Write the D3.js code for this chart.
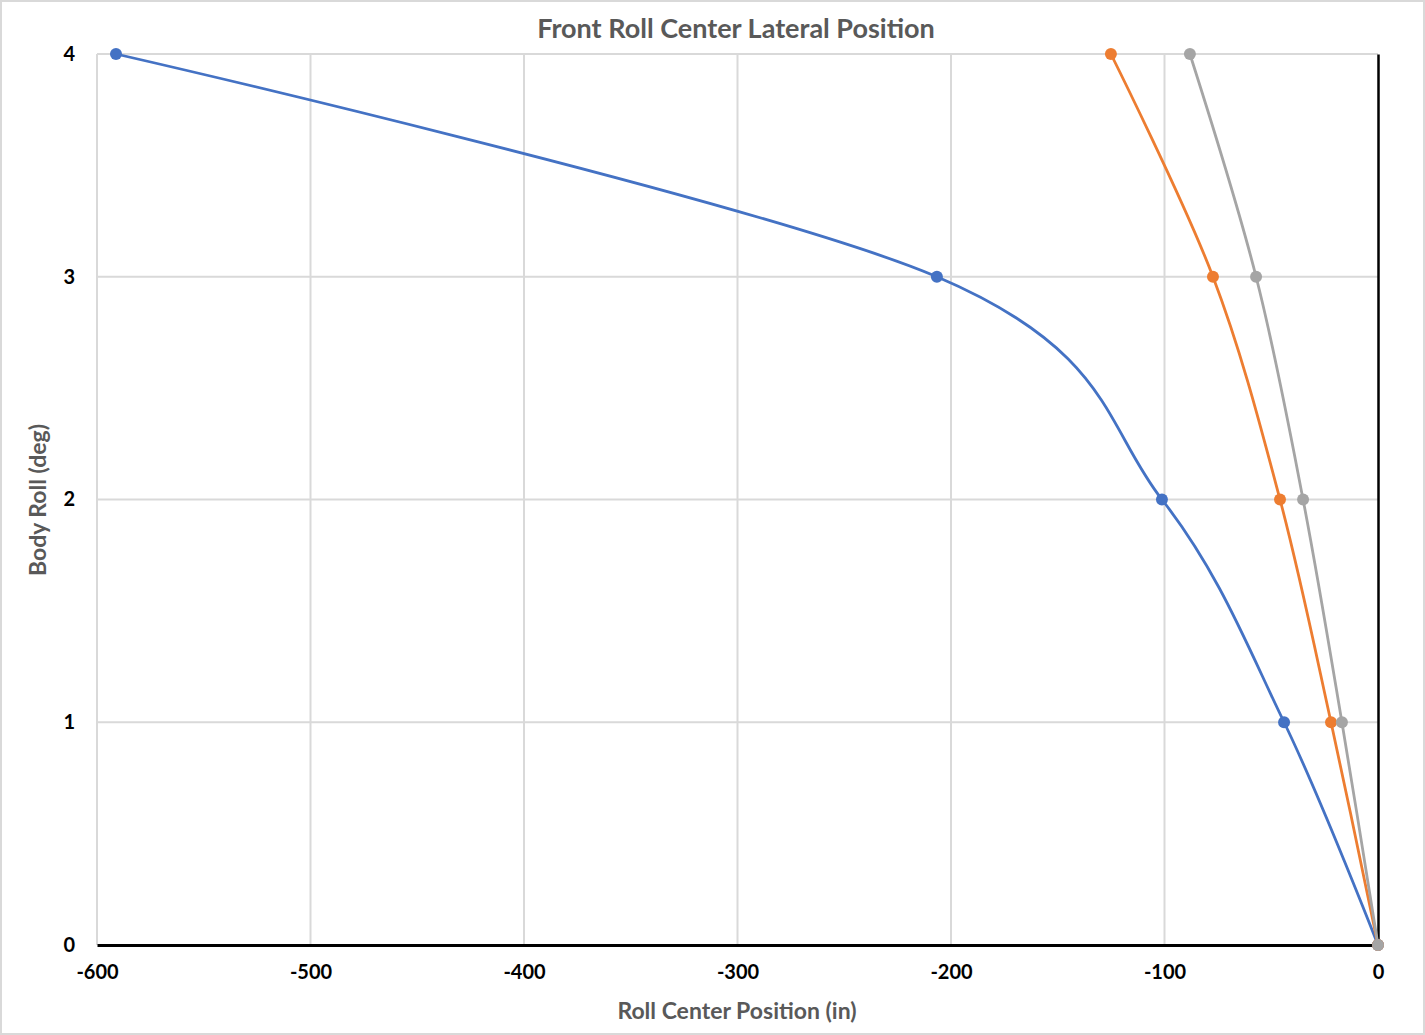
<!DOCTYPE html>
<html>
<head>
<meta charset="utf-8">
<script src="https://cdn.jsdelivr.net/npm/d3@7"></script>
<style>
  body { margin: 0; background: #fff; }
  svg text { font-family: Lato, "Open Sans", sans-serif; }
</style>
</head>
<body>
<svg id="chart" width="1425" height="1035"></svg>
<script>
// Body roll angle (deg) per point
var roll = [0, 1, 2, 3, 4];
// Roll center lateral position (in), one array per series
var serieBlue   = [0, -44.0, -101.2, -206.6, -591.1];
var serieOrange = [0, -22.0, -45.9, -77.3, -125.1];
var serieGray   = [0, -16.9, -35.1, -57.1, -88.1];

var xTicks = [-600, -500, -400, -300, -200, -100, 0];
var yTicks = [0, 1, 2, 3, 4];

var series = [
  { valori: serieBlue,   colore: "#4472c4" },
  { valori: serieOrange, colore: "#ed7d31" },
  { valori: serieGray,   colore: "#a5a5a5" }
];

var svg = d3.select("#chart");
var margin = { top: 54, right: 47, bottom: 90, left: 97 };
var width = 1425 - margin.left - margin.right,
    height = 1035 - margin.top - margin.bottom;

// bordo esterno del grafico
svg.append("rect")
  .attr("x", 1).attr("y", 1)
  .attr("width", 1423).attr("height", 1033)
  .attr("fill", "#fff")
  .attr("stroke", "#d9d9d9")
  .attr("stroke-width", 2);

var x = d3.scaleLinear().domain([-600, 0]).range([0, width]);
var y = d3.scaleLinear().domain([0, 4]).range([height, 0]);

var g = svg.append("g")
  .attr("transform", "translate(" + margin.left + "," + margin.top + ")");

// griglia verticale
g.selectAll(".vgrid")
  .data(xTicks.filter(function(d) { return d != 0; }))
  .enter().append("line")
  .attr("x1", function(d) { return x(d); })
  .attr("x2", function(d) { return x(d); })
  .attr("y1", 0).attr("y2", height)
  .attr("stroke", "#d9d9d9").attr("stroke-width", 2);

// griglia orizzontale
g.selectAll(".hgrid")
  .data(yTicks.filter(function(d) { return d != 0; }))
  .enter().append("line")
  .attr("x1", 0).attr("x2", width)
  .attr("y1", function(d) { return y(d); })
  .attr("y2", function(d) { return y(d); })
  .attr("stroke", "#d9d9d9").attr("stroke-width", 2);

// assi (trattino semplice come segno meno)
var fmt = function(d) { return String(d); };

var xAxis = g.append("g")
  .attr("transform", "translate(0," + height + ")")
  .call(d3.axisBottom(x).tickValues(xTicks).tickSize(0).tickPadding(20).tickFormat(fmt));
xAxis.select(".domain").attr("stroke", "#000").attr("stroke-width", 3);
xAxis.selectAll("text")
  .style("font-size", "20px").style("font-weight", "bold").attr("fill", "#000");

var yAxis = g.append("g")
  .attr("transform", "translate(" + x(0) + ",0)")
  .call(d3.axisLeft(y).tickValues(yTicks).tickSize(0).tickFormat(fmt));
yAxis.select(".domain").attr("stroke", "#000").attr("stroke-width", 2.5);
yAxis.selectAll("text")
  .attr("x", -x(0) - 22)
  .attr("dy", "0.32em")
  .style("font-size", "20px").style("font-weight", "bold").attr("fill", "#000");

// linee smussate
var line = d3.line()
  .x(function(d) { return x(d[0]); })
  .y(function(d) { return y(d[1]); })
  .curve(d3.curveCardinal.tension(0));

series.forEach(function(s) {
  var punti = s.valori.map(function(v, i) { return [v, roll[i]]; });
  g.append("path")
    .datum(punti)
    .attr("fill", "none")
    .attr("stroke", s.colore)
    .attr("stroke-width", 2.8)
    .attr("d", line);
  g.selectAll(null)
    .data(punti)
    .enter().append("circle")
    .attr("cx", function(d) { return x(d[0]); })
    .attr("cy", function(d) { return y(d[1]); })
    .attr("r", 6)
    .attr("fill", s.colore);
});

// titoli
svg.append("text")
  .attr("x", 736).attr("y", 38)
  .attr("text-anchor", "middle")
  .style("font-size", "27px").style("font-weight", "bold")
  .attr("fill", "#595959")
  .text("Front Roll Center Lateral Position");

svg.append("text")
  .attr("x", 737).attr("y", 1019)
  .attr("text-anchor", "middle")
  .style("font-size", "23px").style("font-weight", "bold")
  .attr("fill", "#595959")
  .text("Roll Center Position (in)");

svg.append("text")
  .attr("transform", "translate(46,500) rotate(-90)")
  .attr("text-anchor", "middle")
  .style("font-size", "23px").style("font-weight", "bold")
  .attr("fill", "#595959")
  .text("Body Roll (deg)");
</script>
</body>
</html>
